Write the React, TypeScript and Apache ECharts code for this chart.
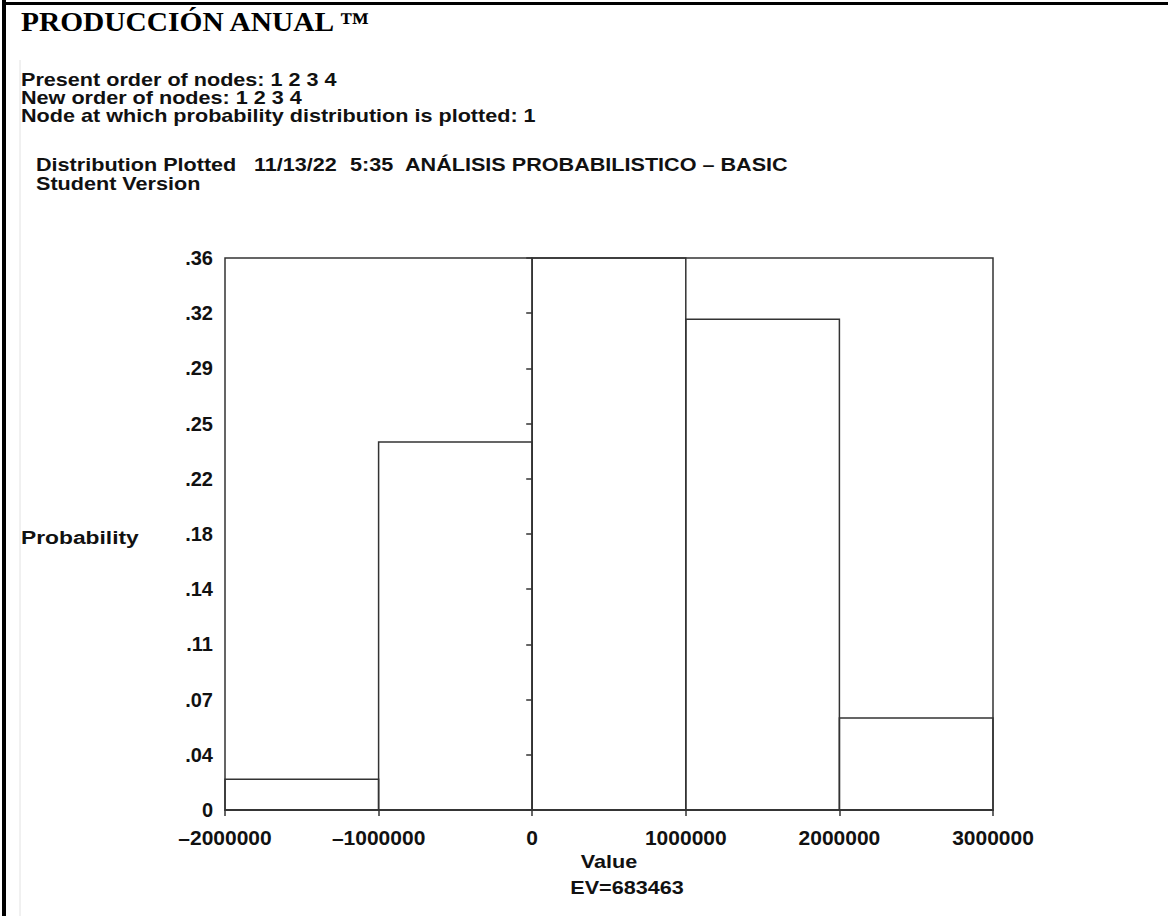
import React, { useEffect, useRef } from "react";
import * as echarts from "echarts";

// ---- data ----
const binStarts = [-2000000, -1000000, 0, 1000000, 2000000];
const binEnds = [-1000000, 0, 1000000, 2000000, 3000000];
const probabilities = [0.02, 0.24, 0.36, 0.32, 0.06];
const xTicks = { min: -2000000, max: 3000000, interval: 1000000 };
const yTicks = { min: 0, max: 0.36, interval: 0.036 };
const titleText = "PRODUCCIÓN ANUAL ™";
const headerLines = [
  "Present order of nodes: 1 2 3 4",
  "New order of nodes: 1 2 3 4",
  "Node at which probability distribution is plotted: 1",
];
const plotInfo = ["Distribution Plotted", "11/13/22", "5:35", "ANÁLISIS PROBABILISTICO \u2013 BASIC"];
const versionText = "Student Version";
const yName = "Probability";
const xName = "Value";
const evText = "EV=683463";

const SANS = "'Liberation Sans', Arial, sans-serif";
const SERIF = "'Liberation Serif', 'Times New Roman', serif";
const INK = "#111";
const LINE = "#333";
const STRETCH = 1.2;

export default function App() {
  const ref = useRef<HTMLDivElement>(null);
  useEffect(() => {
    if (!ref.current) return;
    const chart = echarts.init(ref.current, null, { renderer: "svg" });
    const hist = binStarts.map((s, i) => [s, binEnds[i], probabilities[i]]);
    const txt = (text: string, x: number, y: number, size: number, extra: any = {}) => ({
      type: "text",
      x,
      y,
      scaleX: STRETCH,
      style: {
        text,
        fill: INK,
        font: `bold ${size}px ${SANS}`,
        textVerticalAlign: "middle",
        ...extra,
      },
    });
    chart.setOption({
      animation: false,
      backgroundColor: "#fff",
      grid: {
        left: 225,
        top: 258,
        right: 175,
        bottom: 106,
        show: true,
        borderColor: LINE,
        borderWidth: 1.5,
        backgroundColor: "transparent",
      },
      xAxis: {
        type: "value",
        min: xTicks.min,
        max: xTicks.max,
        interval: xTicks.interval,
        splitLine: { show: false },
        axisLine: { show: true, lineStyle: { color: LINE, width: 1.5 } },
        axisTick: { show: true, inside: false, length: 6, lineStyle: { color: LINE, width: 1.5 } },
        axisLabel: {
          color: INK,
          fontFamily: SANS,
          fontWeight: "bold",
          fontSize: 21,
          margin: 17,
          formatter: (v: number) => (v < 0 ? "\u2013" + Math.abs(v) : String(v)),
        },
      },
      yAxis: {
        type: "value",
        min: yTicks.min,
        max: yTicks.max,
        interval: yTicks.interval,
        splitLine: { show: false },
        axisLine: { show: true, lineStyle: { color: LINE, width: 1.5 } },
        axisTick: { show: true, inside: false, length: 6, lineStyle: { color: LINE, width: 1.5 } },
        axisLabel: {
          color: INK,
          fontFamily: SANS,
          fontWeight: "bold",
          fontSize: 20,
          margin: 12,
          formatter: (v: number) => (Math.abs(v) < 1e-9 ? "0" : v.toFixed(2).replace(/^0/, "")),
        },
      },
      series: [
        {
          type: "custom",
          data: hist,
          encode: { x: [0, 1], y: 2 },
          renderItem: (params: any, api: any) => {
            const p0 = api.coord([api.value(0), api.value(2)]);
            const p1 = api.coord([api.value(1), 0]);
            return {
              type: "rect",
              shape: { x: p0[0], y: p0[1], width: p1[0] - p0[0], height: p1[1] - p0[1] },
              style: { fill: "none", stroke: LINE, lineWidth: 1.5 },
            };
          },
        },
      ],
      graphic: [
        { type: "rect", shape: { x: 2, y: 0, width: 4, height: 916 }, style: { fill: "#000" } },
        { type: "rect", shape: { x: 2, y: 2, width: 1166, height: 3 }, style: { fill: "#000" } },
        { type: "line", shape: { x1: 20, y1: 60, x2: 20, y2: 916 }, style: { stroke: "#e2e2e2", lineWidth: 1 } },
        {
          type: "text",
          x: 21,
          y: 22,
          scaleX: 1.09,
          style: { text: titleText, fill: "#000", font: `bold 27px ${SERIF}`, textVerticalAlign: "middle" },
        },
        txt(headerLines.join("\n"), 21, 71, 18, { textVerticalAlign: "top", lineHeight: 18 }),
        txt(plotInfo[0], 36, 165, 18),
        txt(plotInfo[1], 254, 165, 18),
        txt(plotInfo[2], 350, 165, 18),
        txt(plotInfo[3], 405, 165, 18),
        txt(versionText, 36, 184, 18),
        txt(yName, 21, 537, 19),
        txt(xName, 609, 862, 18, { textAlign: "center" }),
        txt(evText, 627, 888, 18, { textAlign: "center" }),
      ],
    });
    return () => chart.dispose();
  }, []);
  return (
    <div
      ref={ref}
      style={{ position: "fixed", left: 0, top: 0, width: 1168, height: 916, background: "#fff" }}
    />
  );
}
